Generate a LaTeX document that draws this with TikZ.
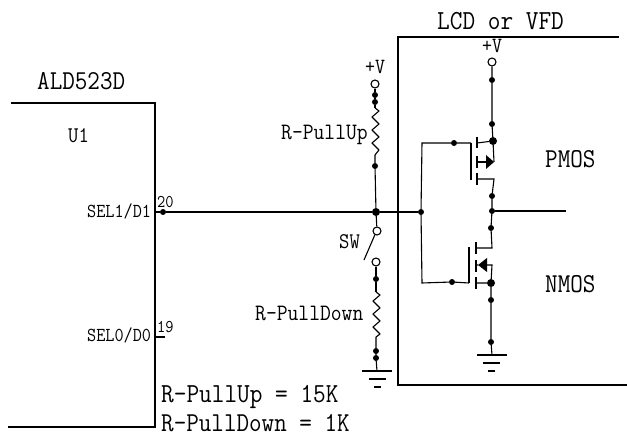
\documentclass[tikz,border=0pt]{standalone}
\usetikzlibrary{calc}
\newcommand\tallt[1]{\scalebox{1}[1.12]{#1}}
\tikzset{
  wire/.style={line width=1.1pt},
  dotn/.style={circle,fill=black,inner sep=0pt,minimum size=6pt},
  bigdot/.style={circle,fill=black,inner sep=0pt,minimum size=8pt},
  term/.style={circle,draw=black,line width=1.1pt,fill=white,inner sep=0pt,minimum size=8pt},
  lab/.style={inner sep=0pt,anchor=base west},
  cw/.style={font=\fontsize{#1}{#1}\selectfont\ttfamily},
  tri/.style={fill=black,draw=none}
}
\begin{document}
\begin{tikzpicture}[x=1pt,y=-1pt]
\useasboundingbox (0,0) rectangle (627,435);
\fill[white] (0,0) rectangle (627,435);
% free ends
\coordinate (icTL) at (11,103);
\coordinate (icTR) at (155,103);
\coordinate (icBR) at (155,427);
\coordinate (icBL) at (8,427);
\coordinate (lcdTR) at (619,37);
\coordinate (lcdTL) at (398,37);
\coordinate (lcdBL) at (398,385);
\coordinate (lcdBR) at (627,385);
\coordinate (pin19) at (155,337);
\coordinate (pin19e) at (165,337);
\coordinate (pin20) at (155,212);
\coordinate (outEnd) at (566,211);
% IC and LCD outlines
\draw[wire] (icTL) -- (icTR) -- (icBR) -- (icBL);
\draw[wire] (lcdTR) -- (lcdTL) -- (lcdBL) -- (lcdBR);
\draw[wire] (pin19) -- (pin19e);
% Nodes on net
\node[dotn] (d20) at (163,212) {};
\node[bigdot] (nA) at (376,212) {};
\node[dotn] (nG) at (421,212) {};
\node[term] (vL) at (375,84) {};
\node[dotn] (dL1) at (375,95) {};
\node[dotn] (dL2) at (375,102) {};
\node[dotn] (dL3) at (375,166) {};
\node[term] (sw1) at (377,231) {};
\node[term] (sw2) at (376,262) {};
\node[dotn] (dL4) at (376,279) {};
\node[dotn] (dL5) at (376,351) {};
\node[dotn] (dL6) at (376,358) {};
\coordinate (gL) at (377,371);
\coordinate (rUt) at (375,108);
\coordinate (rUb) at (375,155);
\coordinate (rDt) at (376,292);
\coordinate (rDb) at (376,337);
\coordinate (swEnd) at (364,260);
% Right column
\node[term] (vR) at (492,62) {};
\node[dotn] (dR1) at (492,80) {};
\node[dotn] (dR2) at (492,124) {};
\node[bigdot] (dR3) at (493,141) {};
\node[dotn] (dR4) at (492,196) {};
\node[dotn] (dR5) at (492,211) {};
\node[dotn] (dR6) at (491,228) {};
\node[bigdot] (dR7) at (491,283) {};
\node[dotn] (dR8) at (491,300) {};
\node[dotn] (dR9) at (491,342) {};
\coordinate (gR) at (492,355);
\node[dotn] (dGp) at (454,143) {};
\node[dotn] (dGn) at (452,282) {};
% main wires
\draw[wire] (pin20) -- (d20) -- (nA) -- (nG);
\draw[wire] (vL) -- (dL1) -- (dL2) -- (rUt);
\draw[wire] (rUb) -- (dL3) -- (nA) -- (sw1);
\draw[wire] (sw2) -- (dL4) -- (rDt);
\draw[wire] (rDb) -- (dL5) -- (dL6) -- (gL);
\draw[wire] ($(sw1)+(-2,3.5)$) -- (swEnd);
% resistors
\draw[wire,line join=round] (rUt) -- ++(4,3) -- ++(-7,6) -- ++(7,7) -- ++(-7,6) -- ++(7,7) -- ++(-7,6) -- ++(7,7) -- (rUb);
\draw[wire,line join=round] (rDt) -- ++(4,3) -- ++(-7,6) -- ++(7,7) -- ++(-7,6) -- ++(7,7) -- ++(-7,6) -- ++(7,7) -- (rDb);
% grounds
\draw[wire] (362,371) -- (392,371) (369,379) -- (386,379) (374,387) -- (381,387);
\draw[wire] (477,355) -- (507,355) (483,363) -- (500,363) (488,371) -- (495,371);
% gates
\draw[wire] (471,143) -- (dGp) -- (422,143) -- (nG) -- (422,283) -- (dGn) -- (469,283);
\draw[wire] (471,143) -- (471,180);
\draw[wire] (469,247) -- (469,283);
% PMOS
\draw[wire] (vR) -- (dR1) -- (dR2) -- (dR3);
\draw[wire] (477,137) -- (477,148) (477,156) -- (477,168) (477,173) -- (477,185);
\draw[wire] (477,143) -- (dR3) -- (494,162);
\draw[wire] (477,162) -- (486,162);
\fill[tri] (486,155) -- (494,162) -- (486,169) -- cycle;
\draw[wire] (477,179) -- (494,179) -- (dR4) -- (dR5) -- (dR6);
\draw[wire] (dR5) -- (outEnd);
% NMOS
\draw[wire] (dR6) -- (492,248) -- (476,248);
\draw[wire] (476,242) -- (476,254) (476,260) -- (476,272) (476,277) -- (476,289);
\fill[tri] (478,265) -- (487,258) -- (487,272) -- cycle;
\draw[wire] (476,265) -- (478,265) (487,265) -- (492,265) -- (dR7) -- (476,283);
\draw[wire] (dR7) -- (dR8) -- (dR9) -- (gR);
% labels
\node[lab,cw=24.4] (tALD) at (37,90) {\tallt{ALD523D}};
\node[lab,cw=20] (tU) at (68,143) {\tallt{U1}};
\node[lab,cw=17.7] (tS1) at (87,218) {\tallt{SEL1/D1}};
\node[lab,cw=16] (t20) at (157,208) {\tallt{20}};
\node[lab,cw=17.7] (tS0) at (87,342) {\tallt{SEL0/D0}};
\node[lab,cw=16] (t19) at (157,333) {\tallt{19}};
\node[lab,cw=19.4] (tVL) at (365,74) {\tallt{+V}};
\node[lab,cw=19.4] (tVR) at (482,53) {\tallt{+V}};
\node[lab,cw=21] (tRU) at (281,140) {\tallt{R-PullUp}};
\node[lab,cw=21] (tRD) at (255,321) {\tallt{R-PullDown}};
\node[lab,cw=20] (tSW) at (339,249) {\tallt{SW}};
\node[lab,cw=24.6] (tLCD) at (437,30) {\tallt{LCD or VFD}};
\node[lab,cw=24.4] (tP) at (545,168) {\tallt{PMOS}};
\node[lab,cw=24.4] (tN) at (545,293) {\tallt{NMOS}};
\node[lab,cw=24.6] (tEq1) at (161,403) {\tallt{R-PullUp = 15K}};
\node[lab,cw=24.4] (tEq2) at (161,432) {\tallt{R-PullDown = 1K}};
\end{tikzpicture}
\end{document}
